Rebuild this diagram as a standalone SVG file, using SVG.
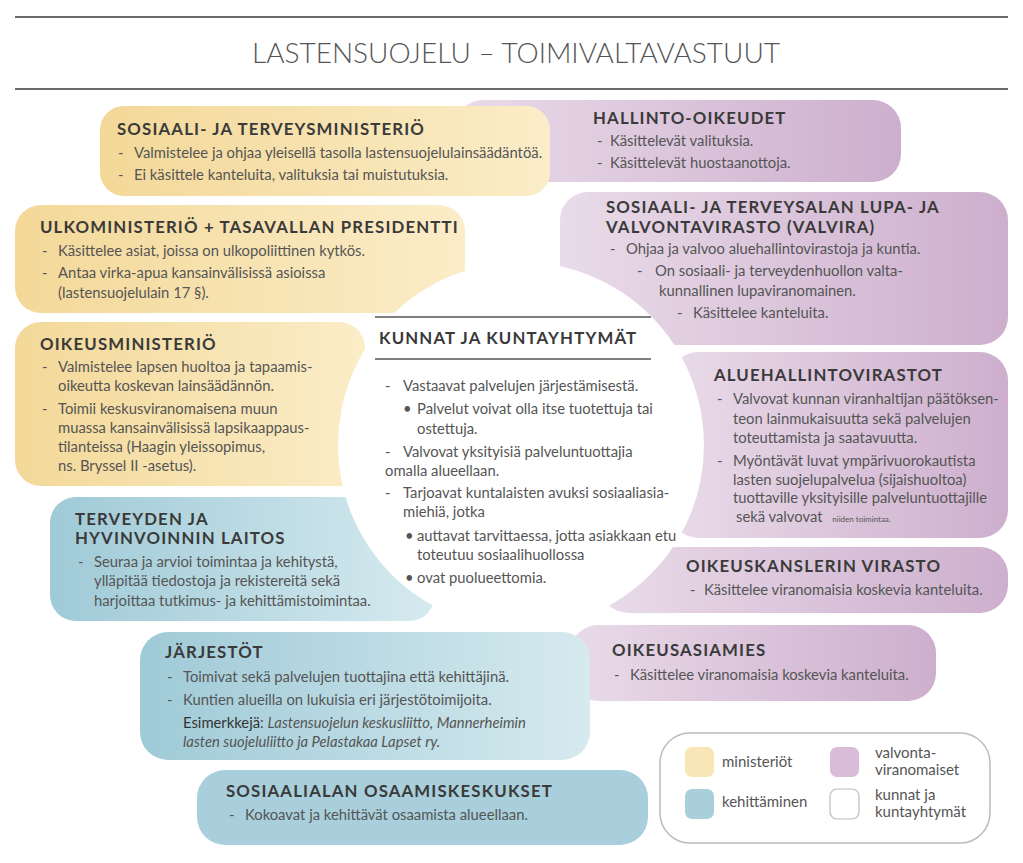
<svg xmlns="http://www.w3.org/2000/svg" width="1023" height="863" viewBox="0 0 1023 863">
<defs>
<linearGradient id="gy" x1="0" y1="0" x2="1" y2="0"><stop offset="0" stop-color="#f3d898"/><stop offset="1" stop-color="#fbedc8"/></linearGradient>
<linearGradient id="gp" x1="0" y1="0" x2="1" y2="0"><stop offset="0" stop-color="#e9dbe9"/><stop offset="1" stop-color="#cdafcd"/></linearGradient>
<linearGradient id="gb" x1="0" y1="0" x2="1" y2="0"><stop offset="0" stop-color="#9fcad7"/><stop offset="1" stop-color="#d6eaef"/></linearGradient>
<style>
.h{font-family:Lato,"Liberation Sans",sans-serif;font-weight:bold;font-size:16.8px;fill:#3a3a3a;letter-spacing:1.15px}
.t{font-family:Lato,"Liberation Sans",sans-serif;font-size:14.8px;fill:#555}
.ti{font-family:Lato,"Liberation Sans",sans-serif;font-size:14.8px;fill:#555;font-style:italic}
.l{font-family:Lato,"Liberation Sans",sans-serif;font-size:15px;fill:#555}
.rule{stroke:#6b6b6b;stroke-width:2}
</style>
</defs>
<rect width="1023" height="863" fill="#fff"/>
<g id="title">
<line class="rule" x1="15" y1="17" x2="1008" y2="17"/>
<line class="rule" x1="15" y1="89" x2="1008" y2="89"/>
<text x="516" y="63" text-anchor="middle" style="font-family:Lato,'Liberation Sans',sans-serif;font-weight:300;font-size:28px;fill:#555">LASTENSUOJELU – TOIMIVALTAVASTUUT</text>
</g>
<g id="shapes">
<rect id="b-hallinto" x="455" y="100" width="446" height="82" rx="28" fill="url(#gp)"/>
<rect id="b-stm" x="100" y="106" width="450" height="90" rx="24" fill="url(#gy)"/>
<rect id="b-um" x="15" y="205" width="450" height="108" rx="26" fill="url(#gy)"/>
<rect id="b-valvira" x="560" y="192" width="448" height="153" rx="28" fill="url(#gp)"/>
<rect id="b-om" x="15" y="322" width="350" height="164" rx="26" fill="url(#gy)"/>
<rect id="b-avi" x="670" y="352" width="338" height="186" rx="28" fill="url(#gp)"/>
<rect id="b-thl" x="50" y="497" width="385" height="124" rx="26" fill="url(#gb)"/>
<rect id="b-okv" x="600" y="547" width="408" height="66" rx="28" fill="url(#gp)"/>
<rect id="b-oa" x="570" y="625" width="366" height="76" rx="28" fill="url(#gp)"/>
<rect id="b-jarj" x="140" y="632" width="450" height="128" rx="28" fill="url(#gb)"/>
<rect id="b-osk" x="197" y="770" width="451" height="75" rx="28" fill="#a8cfdb"/>
<circle id="center-circle" cx="521" cy="445" r="183" fill="#fff"/>
</g>
<g id="connectors"></g>
<g id="n-stm">
<text class="h" x="117" y="135">SOSIAALI- JA TERVEYSMINISTERIÖ</text>
<text class="t" x="118" y="158">-</text><text class="t" x="134" y="158">Valmistelee ja ohjaa yleisellä tasolla lastensuojelulainsäädäntöä.</text>
<text class="t" x="118" y="180">-</text><text class="t" x="134" y="180">Ei käsittele kanteluita, valituksia tai muistutuksia.</text>
</g>
<g id="n-hallinto">
<text class="h" x="593" y="124">HALLINTO-OIKEUDET</text>
<text class="t" x="597" y="146">-</text><text class="t" x="610" y="146">Käsittelevät valituksia.</text>
<text class="t" x="597" y="168">-</text><text class="t" x="610" y="168">Käsittelevät huostaanottoja.</text>
</g>
<g id="n-um">
<text class="h" x="40" y="233">ULKOMINISTERIÖ + TASAVALLAN PRESIDENTTI</text>
<text class="t" x="42" y="256">-</text><text class="t" x="58" y="256">Käsittelee asiat, joissa on ulkopoliittinen kytkös.</text>
<text class="t" x="42" y="278">-</text><text class="t" x="58" y="278">Antaa virka-apua kansainvälisissä asioissa</text>
<text class="t" x="58" y="298">(lastensuojelulain 17 §).</text>
</g>
<g id="n-valvira">
<text class="h" x="606" y="213">SOSIAALI- JA TERVEYSALAN LUPA- JA</text>
<text class="h" x="606" y="233">VALVONTAVIRASTO (VALVIRA)</text>
<text class="t" x="610" y="254">-</text><text class="t" x="626" y="254">Ohjaa ja valvoo aluehallintovirastoja ja kuntia.</text>
<text class="t" x="637" y="276">-</text><text class="t" x="655" y="276">On sosiaali- ja terveydenhuollon valta-</text>
<text class="t" x="659" y="296">kunnallinen lupaviranomainen.</text>
<text class="t" x="677" y="318">-</text><text class="t" x="693" y="318">Käsittelee kanteluita.</text>
</g>
<g id="n-om">
<text class="h" x="40" y="350">OIKEUSMINISTERIÖ</text>
<text class="t" x="42" y="372">-</text><text class="t" x="58" y="372">Valmistelee lapsen huoltoa ja tapaamis-</text>
<text class="t" x="58" y="391">oikeutta koskevan lainsäädännön.</text>
<text class="t" x="42" y="414">-</text><text class="t" x="58" y="414">Toimii keskusviranomaisena muun</text>
<text class="t" x="58" y="433">muassa kansainvälisissä lapsikaappaus-</text>
<text class="t" x="58" y="452">tilanteissa (Haagin yleissopimus,</text>
<text class="t" x="58" y="471">ns. Bryssel II -asetus).</text>
</g>
<g id="n-avi">
<text class="h" x="714" y="381">ALUEHALLINTOVIRASTOT</text>
<text class="t" x="717" y="404">-</text><text class="t" x="733" y="404">Valvovat kunnan viranhaltijan päätöksen-</text>
<text class="t" x="733" y="424">teon lainmukaisuutta sekä palvelujen</text>
<text class="t" x="733" y="443">toteuttamista  ja saatavuutta.</text>
<text class="t" x="717" y="466">-</text><text class="t" x="733" y="466">Myöntävät luvat ympärivuorokautista</text>
<text class="t" x="733" y="485">lasten suojelupalvelua (sijaishuoltoa)</text>
<text class="t" x="733" y="503">tuottaville yksityisille palveluntuottajille</text>
<text class="t" x="736" y="522">sekä valvovat <tspan style="font-size:8px" dx="6">niiden toimintaa.</tspan></text>
</g>
<g id="n-center">
<line stroke="#555" stroke-width="1.6" x1="375" y1="317" x2="651" y2="317"/>
<line stroke="#555" stroke-width="1.6" x1="375" y1="359" x2="651" y2="359"/>
<text class="h" x="379" y="344">KUNNAT JA KUNTAYHTYMÄT</text>
<text class="t" x="385" y="391">-</text><text class="t" x="403" y="391">Vastaavat palvelujen järjestämisestä.</text>
<text class="t" x="403" y="414">•</text><text class="t" x="417" y="414">Palvelut voivat olla itse tuotettuja tai</text>
<text class="t" x="417" y="434">ostettuja.</text>
<text class="t" x="385" y="457">-</text><text class="t" x="403" y="457">Valvovat yksityisiä palveluntuottajia</text>
<text class="t" x="385" y="476">omalla alueellaan.</text>
<text class="t" x="385" y="498">-</text><text class="t" x="403" y="498">Tarjoavat kuntalaisten avuksi sosiaaliasia-</text>
<text class="t" x="403" y="517">miehiä, jotka</text>
<text class="t" x="405" y="541">•</text><text class="t" x="417" y="541">auttavat tarvittaessa, jotta asiakkaan etu</text>
<text class="t" x="417" y="560">toteutuu sosiaalihuollossa</text>
<text class="t" x="405" y="583">•</text><text class="t" x="417" y="583">ovat puolueettomia.</text>
</g>
<g id="n-thl">
<text class="h" x="75" y="525">TERVEYDEN JA</text>
<text class="h" x="75" y="544">HYVINVOINNIN LAITOS</text>
<text class="t" x="78" y="567">-</text><text class="t" x="94" y="567">Seuraa ja arvioi toimintaa ja kehitystä,</text>
<text class="t" x="94" y="586">ylläpitää tiedostoja ja rekistereitä sekä</text>
<text class="t" x="94" y="606">harjoittaa tutkimus- ja kehittämistoimintaa.</text>
</g>
<g id="n-okv">
<text class="h" x="686" y="572">OIKEUSKANSLERIN VIRASTO</text>
<text class="t" x="690" y="595">-</text><text class="t" x="704" y="595">Käsittelee  viranomaisia koskevia kanteluita.</text>
</g>
<g id="n-oa">
<text class="h" x="612" y="656">OIKEUSASIAMIES</text>
<text class="t" x="614" y="680">-</text><text class="t" x="630" y="680">Käsittelee viranomaisia koskevia kanteluita.</text>
</g>
<g id="n-jarj">
<text class="h" x="165" y="658">JÄRJESTÖT</text>
<text class="t" x="167" y="682">-</text><text class="t" x="183" y="682">Toimivat sekä palvelujen tuottajina että kehittäjinä.</text>
<text class="t" x="167" y="705">-</text><text class="t" x="183" y="705">Kuntien alueilla on lukuisia eri järjestötoimijoita.</text>
<text class="t" x="183" y="728"><tspan style="fill:#333">Esimerkkejä</tspan>: <tspan style="font-style:italic">Lastensuojelun keskusliitto, Mannerheimin</tspan></text>
<text class="ti" x="183" y="747">lasten suojeluliitto ja Pelastakaa Lapset ry.</text>
</g>
<g id="n-osk">
<text class="h" x="226" y="797">SOSIAALIALAN OSAAMISKESKUKSET</text>
<text class="t" x="229" y="820">-</text><text class="t" x="245" y="820">Kokoavat ja kehittävät osaamista alueellaan.</text>
</g>
<g id="legend">
<rect x="660" y="733" width="330" height="110" rx="30" fill="#fff" stroke="#bbb" stroke-width="1.5"/>
<rect x="685" y="747" width="29" height="30" rx="7" fill="#f8e6b6"/>
<text class="l" x="722" y="767">ministeriöt</text>
<rect x="830" y="747" width="29" height="30" rx="7" fill="#d8bcd8"/>
<text class="l" x="875" y="758">valvonta-</text>
<text class="l" x="875" y="775">viranomaiset</text>
<rect x="685" y="789" width="29" height="30" rx="7" fill="#a9cfdb"/>
<text class="l" x="722" y="807">kehittäminen</text>
<rect x="830" y="789" width="29" height="30" rx="7" fill="#fff" stroke="#bbb" stroke-width="1.2"/>
<text class="l" x="875" y="800">kunnat ja</text>
<text class="l" x="875" y="817">kuntayhtymät</text>
</g>
</svg>
